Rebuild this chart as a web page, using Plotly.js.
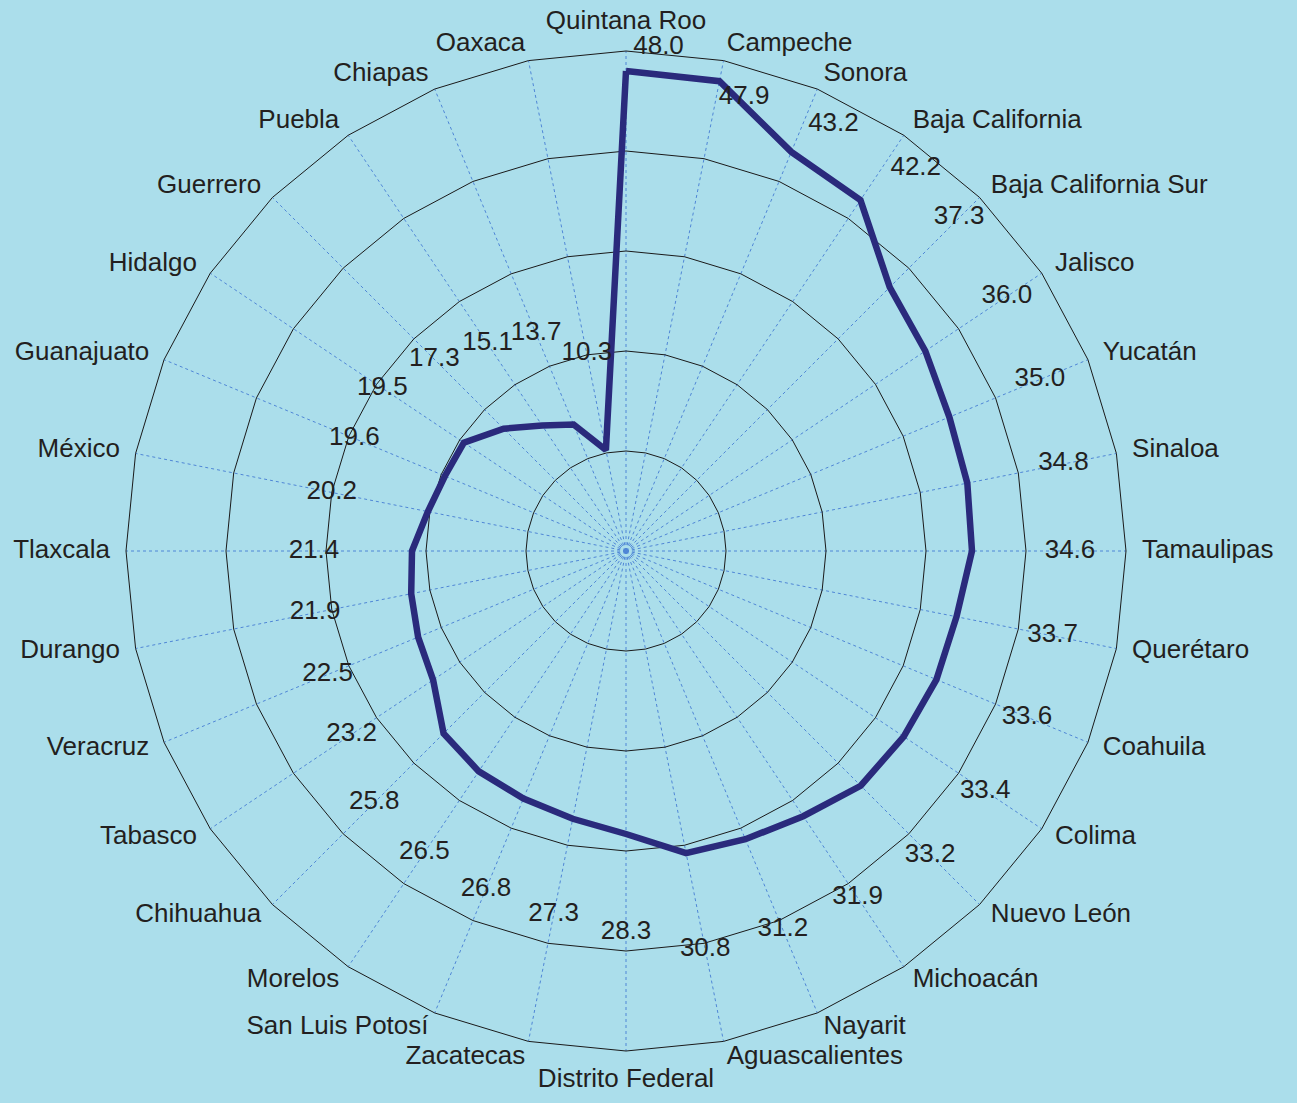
<!DOCTYPE html>
<html>
<head>
<meta charset="utf-8">
<script src="https://cdn.plot.ly/plotly-3.0.1.min.js"></script>
<style>html,body{margin:0;padding:0;background:#abdeeb;}</style>
</head>
<body>
<div id="chart" style="width:1297px;height:1103px;"></div>
<script>
const states = ["Quintana Roo","Campeche","Sonora","Baja California","Baja California Sur","Jalisco","Yucatán","Sinaloa","Tamaulipas","Querétaro","Coahuila","Colima","Nuevo León","Michoacán","Nayarit","Aguascalientes","Distrito Federal","Zacatecas","San Luis Potosí","Morelos","Chihuahua","Tabasco","Veracruz","Durango","Tlaxcala","México","Guanajuato","Hidalgo","Guerrero","Puebla","Chiapas","Oaxaca"];
const values = [48.0,47.9,43.2,42.2,37.3,36.0,35.0,34.8,34.6,33.7,33.6,33.4,33.2,31.9,31.2,30.8,28.3,27.3,26.8,26.5,25.8,23.2,22.5,21.9,21.4,20.2,19.6,19.5,17.3,15.1,13.7,10.3];
const valueLabels = values.map(v => v.toFixed(1));

const W = 1297, H = 1103;
const bg = '#abdeeb';
const txt = '#231f20';
const FONT = 'Liberation Sans, Arial, sans-serif';
const rMax = 50;

// geometry: main web centred at (626,551) px with 500 px radius
const cx = 626, cy = 551, R = 500;
const outerR = Math.min(cy, H - cy);            // larger, invisible polar for outside labels
const outerRange = rMax * outerR / R;

// value labels sit ~10 units outside the point; those that would cross the rim are pulled in
const rimCap = 47.6;
const labelR = values.map((v, i) => i === 0 ? 49.1 : Math.min(v + 9.8, rimCap));
const labelPos = values.map((v, i) => i === 0 ? 'top right' : (v + 9.8 > rimCap ? 'bottom right' : 'middle center'));
const valueText = valueLabels.map((t, i) => i === 0 ? '\u00a0' + t : t);

// category labels just outside the rim, anchored by side
const n = states.length;
const catR = states.map(() => rMax * 1.032);
const catPos = states.map((s, i) => {
  const a = i * 360 / n;
  if (a === 0) return 'top center';
  if (a === 180) return 'bottom center';
  return a < 180 ? 'middle right' : 'middle left';
});

const line = {
  type: 'scatterpolar', subplot: 'polar',
  r: values.concat([values[0]]),
  theta: states.concat([states[0]]),
  mode: 'lines',
  line: {color: '#2a2a7c', width: 6.5, shape: 'linear'},
  hoverinfo: 'skip', showlegend: false
};
const labels = {
  type: 'scatterpolar', subplot: 'polar',
  r: labelR, theta: states,
  mode: 'text', text: valueText, textposition: labelPos,
  textfont: {family: FONT, size: 26, color: txt},
  cliponaxis: false, hoverinfo: 'skip', showlegend: false
};
const cats = {
  type: 'scatterpolar', subplot: 'polar2',
  r: catR, theta: states,
  mode: 'text', text: states, textposition: catPos,
  textfont: {family: FONT, size: 26, color: txt},
  cliponaxis: false, hoverinfo: 'skip', showlegend: false
};

const layout = {
  width: W, height: H,
  margin: {l: 0, r: 0, t: 0, b: 0},
  paper_bgcolor: bg, plot_bgcolor: bg,
  font: {family: FONT, size: 26, color: txt},
  showlegend: false,
  polar: {
    bgcolor: bg,
    gridshape: 'linear',
    domain: {x: [(cx - R) / W, (cx + R) / W], y: [(H - cy - R) / H, (H - cy + R) / H]},
    radialaxis: {
      range: [0, rMax], dtick: 10, tick0: 0,
      showticklabels: false, ticks: '', showline: false,
      gridcolor: '#1a1a1a', gridwidth: 1, layer: 'below traces'
    },
    angularaxis: {
      type: 'category', categoryarray: states,
      rotation: 90, direction: 'clockwise',
      showline: true, linecolor: '#1a1a1a', linewidth: 1,
      gridcolor: '#4f86d6', gridwidth: 1, griddash: 'dot',
      ticks: '', showticklabels: false, layer: 'below traces'
    }
  },
  polar2: {
    bgcolor: 'rgba(0,0,0,0)',
    gridshape: 'linear',
    domain: {x: [(cx - outerR) / W, (cx + outerR) / W], y: [(H - cy - outerR) / H, (H - cy + outerR) / H]},
    radialaxis: {range: [0, outerRange], visible: false, showgrid: false},
    angularaxis: {
      type: 'category', categoryarray: states,
      rotation: 90, direction: 'clockwise',
      showline: false, showgrid: false, showticklabels: false, ticks: ''
    }
  }
};

Plotly.newPlot('chart', [line, labels, cats], layout, {displayModeBar: false, staticPlot: true});
</script>
</body>
</html>
